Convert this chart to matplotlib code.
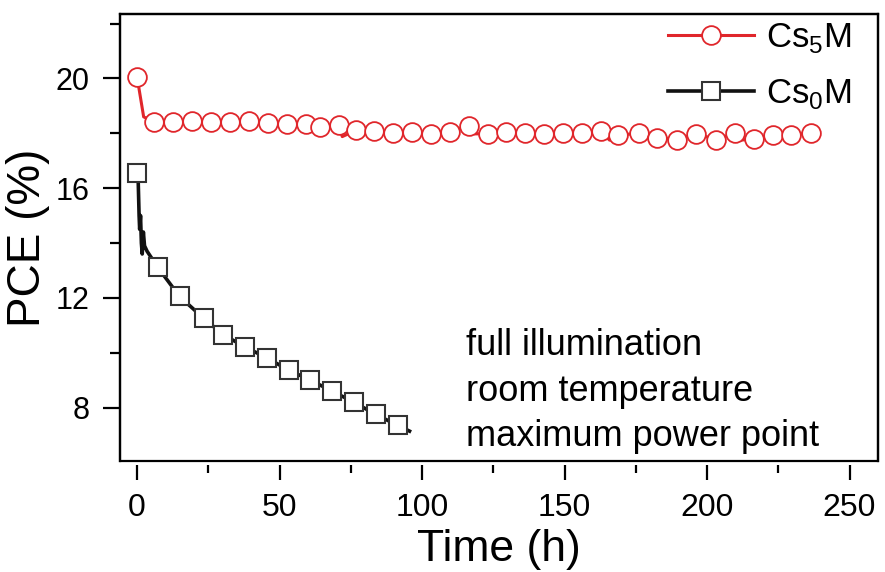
import numpy as np
import matplotlib
matplotlib.use('Agg')
import matplotlib.pyplot as plt

plt.rcParams['font.family'] = ['Liberation Sans', 'DejaVu Sans']
plt.rcParams['mathtext.fontset'] = 'custom'
plt.rcParams['mathtext.rm'] = 'Liberation Sans'

# Cs5M: PCE vs time (markers where red_mark is 1, others are line-only points)
red_t = [0, 2.3, 6.0, 12.6, 19.2, 25.9, 32.5, 39.4, 46.0, 52.7, 59.2, 64.1, 70.7, 72.0,
         76.9, 83.1, 89.8, 96.4, 103.1, 109.8, 116.3, 118.5, 123.0, 129.4, 136.1, 142.8,
         149.6, 156.2, 162.8, 165.8, 168.9, 176.3, 182.6, 189.4, 196.2, 203.1, 209.8,
         212.0, 216.4, 223.2, 229.6, 236.6]
red_pce = [20.05, 18.6, 18.41, 18.41, 18.44, 18.43, 18.41, 18.44, 18.37, 18.35, 18.35,
           18.23, 18.29, 17.88, 18.11, 18.08, 18.00, 18.06, 17.98, 18.05, 18.27, 17.98,
           17.98, 18.04, 18.02, 17.98, 18.02, 18.02, 18.08, 17.75, 17.93, 18.01, 17.84,
           17.77, 17.99, 17.77, 18.01, 17.75, 17.81, 17.95, 17.95, 18.01]
red_mark = [1, 0, 1, 1, 1, 1, 1, 1, 1, 1, 1, 1, 1, 0, 1, 1, 1, 1, 1, 1, 1, 0, 1, 1, 1, 1,
            1, 1, 1, 0, 1, 1, 1, 1, 1, 1, 1, 0, 1, 1, 1, 1]

# Cs0M: PCE vs time
black_t = [0, 0.4, 0.7, 0.9, 1.2, 1.5, 1.8, 2.2, 2.6, 3.5, 7.2, 14.9, 23.3, 30.3, 37.9,
           45.5, 53.3, 60.8, 68.4, 76.0, 83.7, 91.5, 95.6]
black_pce = [16.55, 16.2, 15.0, 14.5, 15.0, 14.0, 13.6, 14.4, 13.9, 13.7, 13.12, 12.05,
             11.26, 10.65, 10.21, 9.81, 9.36, 9.00, 8.60, 8.20, 7.75, 7.35, 7.14]
black_mark = [1, 0, 0, 0, 0, 0, 0, 0, 0, 0, 1, 1, 1, 1, 1, 1, 1, 1, 1, 1, 1, 1, 0]

labels = ['Cs$_5$M', 'Cs$_0$M']
conditions = ['full illumination', 'room temperature', 'maximum power point']

RED = '#e0262b'

fig = plt.figure(figsize=(8.85, 5.72), dpi=100)
ax = fig.add_axes([0.1356, 0.194, 0.8565, 0.7815])

ax.plot(red_t, red_pce, '-', color=RED, lw=2.2, marker='o', ms=13.5,
        mfc='white', mec=RED, mew=1.3,
        markevery=[i for i, m in enumerate(red_mark) if m], label=labels[0])
ax.plot(black_t, black_pce, '-', color='#111111', lw=2.6, marker='s', ms=13,
        mfc='white', mec='#333333', mew=1.5,
        markevery=[i for i, m in enumerate(black_mark) if m], label=labels[1])

ax.set_xlim(-6, 260)
ax.set_ylim(6.05, 22.35)
ax.set_xticks(np.arange(0, 251, 50))
ax.set_xticks(np.arange(25, 251, 50), minor=True)
ax.set_yticks([8, 12, 16, 20])
ax.set_yticks([10, 14, 18, 22], minor=True)

# closed frame, x ticks hang a bit below it
for s in ax.spines.values():
    s.set_linewidth(1.6)
ax.spines['bottom'].set_position(('outward', 3))
ax.spines['bottom'].set_visible(False)
ax.patch.set_edgecolor('black')
ax.patch.set_linewidth(1.6)

ax.tick_params(axis='both', which='both', direction='out', width=1.6)
ax.tick_params(axis='x', which='major', length=11, pad=9, labelsize=23)
ax.tick_params(axis='x', which='minor', length=6)
ax.tick_params(axis='y', which='major', length=12, pad=10, labelsize=22)
ax.tick_params(axis='y', which='minor', length=7)

ax.set_xlabel('Time (h)', fontsize=32, labelpad=4)
ax.set_ylabel('PCE (%)', fontsize=33, labelpad=4)

ax.text(115.5, 8.6, '\n'.join(conditions), fontsize=26, ha='left', va='center',
        linespacing=1.39)

leg = ax.legend(loc='upper right', bbox_to_anchor=(0.993, 1.03), frameon=False,
                fontsize=25, handlelength=2.45, handletextpad=0.37,
                labelspacing=0.62, borderaxespad=0.2)

fig.savefig('out.png', dpi=100)
